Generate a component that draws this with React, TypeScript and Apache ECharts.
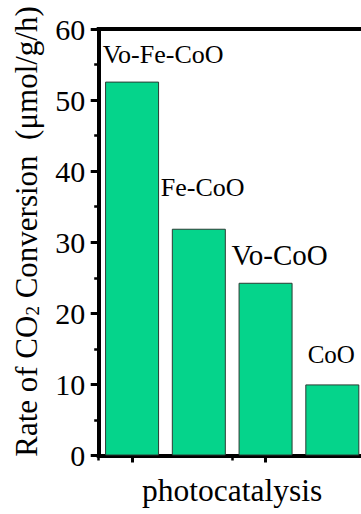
import React, { useEffect, useRef } from 'react';
import * as echarts from 'echarts';

const categories = ['Vo-Fe-CoO', 'Fe-CoO', 'Vo-CoO', 'CoO'];
const rates = [52.6, 31.9, 24.3, 10.0];
const yTicks = [0, 10, 20, 30, 40, 50, 60];
const xAxisTitle = 'photocatalysis';
const yTitleMain = 'Rate of CO';
const yTitleSub = '2';
const yTitleRest = ' Conversion  (μmol/g/h)';

// label placement (offset from bar's top-left corner) and font size, per bar
const labelLayouts = [
  { pos: [-2.4, -26.7], size: 26 },
  { pos: [-11, -41.7], size: 26 },
  { pos: [-7, -27.5], size: 29 },
  { pos: [2.3, -29.8], size: 25 },
];

const FONT = '"Liberation Serif", "Times New Roman", serif';
const BAR_COLOR = '#05D48B';

export default function App() {
  const ref = useRef<HTMLDivElement>(null);

  useEffect(() => {
    if (!ref.current) return;
    const chart = echarts.init(ref.current, undefined, { renderer: 'svg' });
    const axisLine = { show: true, lineStyle: { color: '#000', width: 4, cap: 'square' } };

    const option: any = {
      animation: false,
      backgroundColor: '#fff',
      textStyle: { fontFamily: FONT },
      grid: {
        left: 98.7,
        top: 29,
        width: 267,
        height: 426.5,
        containLabel: false,
        outerBoundsMode: 'none',
      },
      xAxis: [
        {
          type: 'category',
          data: categories,
          position: 'bottom',
          axisLine,
          axisTick: { show: true, alignWithLabel: true, length: 7, lineStyle: { color: '#000', width: 3 } },
          axisLabel: { show: false },
          splitLine: { show: false },
          name: xAxisTitle,
          nameLocation: 'middle',
          nameGap: 18.5,
          nameTextStyle: { fontFamily: FONT, fontSize: 31.5, color: '#000' },
        },
        {
          type: 'category',
          data: categories,
          position: 'bottom',
          axisLine: { show: false },
          axisTick: { show: true, alignWithLabel: false, length: 5, lineStyle: { color: '#000', width: 2.5 } },
          axisLabel: { show: false },
          splitLine: { show: false },
        },
        {
          type: 'category',
          data: categories,
          position: 'top',
          axisLine,
          axisTick: { show: false },
          axisLabel: { show: false },
          splitLine: { show: false },
        },
      ],
      yAxis: [
        {
          type: 'value',
          min: yTicks[0],
          max: yTicks[yTicks.length - 1],
          interval: yTicks[1] - yTicks[0],
          position: 'left',
          axisLine,
          axisTick: { show: true, length: 8, lineStyle: { color: '#000', width: 3 } },
          minorTick: { show: true, splitNumber: 2, length: 4.5, lineStyle: { color: '#000', width: 2.5 } },
          axisLabel: { fontFamily: FONT, fontSize: 30, color: '#000', margin: 13.5 },
          splitLine: { show: false },
          minorSplitLine: { show: false },
        },
        {
          type: 'value',
          min: yTicks[0],
          max: yTicks[yTicks.length - 1],
          interval: yTicks[1] - yTicks[0],
          position: 'right',
          axisLine,
          axisTick: { show: false },
          axisLabel: { show: false },
          splitLine: { show: false },
        },
      ],
      series: [
        {
          type: 'bar',
          xAxisIndex: 0,
          yAxisIndex: 0,
          barWidth: 54,
          itemStyle: { color: BAR_COLOR, borderColor: '#2b3b33', borderWidth: 1 },
          data: rates.map((v, i) => ({
            value: v,
            label: {
              show: true,
              formatter: categories[i],
              position: labelLayouts[i].pos,
              align: 'left',
              verticalAlign: 'middle',
              fontFamily: FONT,
              fontSize: labelLayouts[i].size,
              color: '#000',
            },
          })),
        },
      ],
      graphic: [
        {
          type: 'text',
          x: 26.5,
          y: 231.5,
          rotation: Math.PI / 2,
          style: {
            text: `{a|${yTitleMain}}{b|${yTitleSub}}{a|${yTitleRest}}`,
            align: 'center',
            verticalAlign: 'middle',
            rich: {
              a: { fontFamily: FONT, fontSize: 31, lineHeight: 31, fill: '#000' },
              b: { fontFamily: FONT, fontSize: 19, lineHeight: 19, verticalAlign: 'bottom', fill: '#000' },
            },
          },
        },
      ],
    };

    chart.setOption(option);
    return () => chart.dispose();
  }, []);

  return (
    <div
      ref={ref}
      style={{ position: 'absolute', left: 0, top: 0, width: 361, height: 514, overflow: 'hidden' }}
    />
  );
}
